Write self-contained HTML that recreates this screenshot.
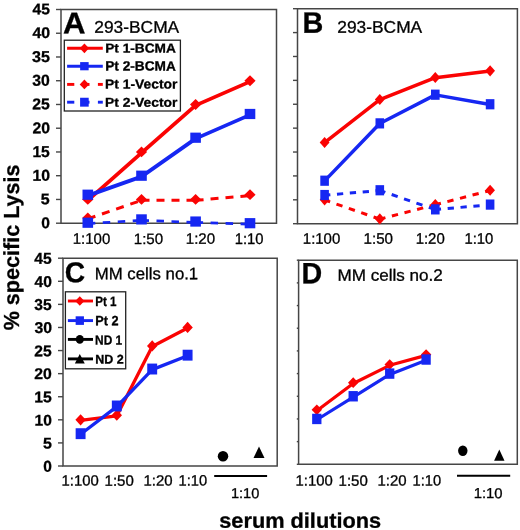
<!DOCTYPE html><html><head><meta charset="utf-8"><title>Figure</title><style>html,body{margin:0;padding:0;background:#fff;}svg{display:block;will-change:transform;}text{font-family:"Liberation Sans",sans-serif;fill:#000;stroke:#000;stroke-width:0.3px;text-rendering:geometricPrecision;}</style></head><body>
<svg width="520" height="530" viewBox="0 0 520 530">
<rect width="520" height="530" fill="#fff"/>
<path d="M56.00 223.20H61.00" stroke="#464646" stroke-width="1.4"/>
<path d="M56.00 199.46H61.00" stroke="#464646" stroke-width="1.4"/>
<path d="M56.00 175.71H61.00" stroke="#464646" stroke-width="1.4"/>
<path d="M56.00 151.97H61.00" stroke="#464646" stroke-width="1.4"/>
<path d="M56.00 128.22H61.00" stroke="#464646" stroke-width="1.4"/>
<path d="M56.00 104.48H61.00" stroke="#464646" stroke-width="1.4"/>
<path d="M56.00 80.73H61.00" stroke="#464646" stroke-width="1.4"/>
<path d="M56.00 56.99H61.00" stroke="#464646" stroke-width="1.4"/>
<path d="M56.00 33.24H61.00" stroke="#464646" stroke-width="1.4"/>
<path d="M56.00 9.50H61.00" stroke="#464646" stroke-width="1.4"/>
<path d="M61.0 9.5H276.5V223.2H61.0Z" fill="none" stroke="#464646" stroke-width="1.5"/>
<path d="M87.80 200.36L141.50 152.87L195.60 105.38L250.00 81.63" fill="none" stroke="#fa0303" stroke-width="3.8" stroke-linejoin="round"/>
<path d="M82.20 199.46L87.80 194.06L93.40 199.46L87.80 204.86Z" fill="#fa0303"/>
<path d="M135.90 151.97L141.50 146.57L147.10 151.97L141.50 157.37Z" fill="#fa0303"/>
<path d="M190.00 104.48L195.60 99.08L201.20 104.48L195.60 109.88Z" fill="#fa0303"/>
<path d="M244.40 80.73L250.00 75.33L255.60 80.73L250.00 86.13Z" fill="#fa0303"/>
<path d="M87.80 195.61L141.50 176.61L195.60 138.62L250.00 114.88" fill="none" stroke="#1627f2" stroke-width="3.8" stroke-linejoin="round"/>
<rect x="82.50" y="189.61" width="10.60" height="10.20" fill="#1627f2"/>
<rect x="136.20" y="170.61" width="10.60" height="10.20" fill="#1627f2"/>
<rect x="190.30" y="132.62" width="10.60" height="10.20" fill="#1627f2"/>
<rect x="244.70" y="108.88" width="10.60" height="10.20" fill="#1627f2"/>
<path d="M87.80 218.88L95.36 216.27M101.98 213.99L109.54 211.38M116.16 209.09L123.72 206.49M130.34 204.20L137.90 201.60M141.50 200.36L149.50 200.36M156.50 200.36L164.50 200.36M171.50 200.36L179.50 200.36M186.50 200.36L194.50 200.36M195.60 200.36L203.57 199.66M210.54 199.05L218.51 198.36M225.49 197.75L233.46 197.05M240.43 196.44L248.40 195.75" fill="none" stroke="#fa0303" stroke-width="3.0"/>
<path d="M82.20 217.98L87.80 212.58L93.40 217.98L87.80 223.38Z" fill="#fa0303"/>
<path d="M135.90 199.46L141.50 194.06L147.10 199.46L141.50 204.86Z" fill="#fa0303"/>
<path d="M190.00 199.46L195.60 194.06L201.20 199.46L195.60 204.86Z" fill="#fa0303"/>
<path d="M244.40 194.71L250.00 189.31L255.60 194.71L250.00 200.11Z" fill="#fa0303"/>
<path d="M87.80 223.63L95.29 223.16M102.77 222.70L110.26 222.23M117.74 221.77L125.23 221.31M132.71 220.84L140.20 220.38M141.50 220.30L148.99 220.60M156.49 220.89L163.98 221.19M171.48 221.48L178.97 221.78M186.46 222.08L193.96 222.37M195.60 222.44L203.10 222.67M210.59 222.90L218.09 223.13M225.59 223.35L233.08 223.58M240.58 223.81L248.08 224.04" fill="none" stroke="#1627f2" stroke-width="2.7"/>
<rect x="82.50" y="217.63" width="10.60" height="10.20" fill="#1627f2"/>
<rect x="136.20" y="214.30" width="10.60" height="10.20" fill="#1627f2"/>
<rect x="190.30" y="216.44" width="10.60" height="10.20" fill="#1627f2"/>
<rect x="244.70" y="218.10" width="10.60" height="10.20" fill="#1627f2"/>
<path d="M293.00 223.70H297.50" stroke="#464646" stroke-width="1.4"/>
<path d="M293.00 199.81H297.50" stroke="#464646" stroke-width="1.4"/>
<path d="M293.00 175.92H297.50" stroke="#464646" stroke-width="1.4"/>
<path d="M293.00 152.03H297.50" stroke="#464646" stroke-width="1.4"/>
<path d="M293.00 128.14H297.50" stroke="#464646" stroke-width="1.4"/>
<path d="M293.00 104.26H297.50" stroke="#464646" stroke-width="1.4"/>
<path d="M293.00 80.37H297.50" stroke="#464646" stroke-width="1.4"/>
<path d="M293.00 56.48H297.50" stroke="#464646" stroke-width="1.4"/>
<path d="M293.00 32.59H297.50" stroke="#464646" stroke-width="1.4"/>
<path d="M293.00 8.70H297.50" stroke="#464646" stroke-width="1.4"/>
<path d="M297.5 8.7H517.4V223.7H297.5Z" fill="none" stroke="#464646" stroke-width="1.5"/>
<path d="M324.60 142.68L379.80 99.68L435.30 77.70L490.10 71.01" fill="none" stroke="#fa0303" stroke-width="3.5" stroke-linejoin="round"/>
<path d="M319.70 142.48L324.60 136.88L329.50 142.48L324.60 148.08Z" fill="#fa0303"/>
<path d="M374.90 99.48L379.80 93.88L384.70 99.48L379.80 105.08Z" fill="#fa0303"/>
<path d="M430.40 77.50L435.30 71.90L440.20 77.50L435.30 83.10Z" fill="#fa0303"/>
<path d="M485.20 70.81L490.10 65.21L495.00 70.81L490.10 76.41Z" fill="#fa0303"/>
<path d="M324.60 180.90L379.80 123.57L435.30 94.90L490.10 104.46" fill="none" stroke="#1627f2" stroke-width="3.5" stroke-linejoin="round"/>
<rect x="320.30" y="175.60" width="8.60" height="10.20" fill="#1627f2"/>
<rect x="375.50" y="118.27" width="8.60" height="10.20" fill="#1627f2"/>
<rect x="431.00" y="89.60" width="8.60" height="10.20" fill="#1627f2"/>
<rect x="485.80" y="99.16" width="8.60" height="10.20" fill="#1627f2"/>
<path d="M324.60 200.01L330.12 201.92M336.47 204.12L342.49 206.20M348.83 208.40L354.85 210.48M361.20 212.68L367.21 214.76M373.56 216.96L379.58 219.04M379.80 219.12L385.42 217.67M391.89 216.00L398.02 214.42M404.48 212.75L410.61 211.16M417.08 209.50L423.20 207.91M429.67 206.24L435.30 204.79M435.30 204.79L440.92 203.32M447.38 201.63L453.51 200.03M459.97 198.34L466.09 196.73M472.55 195.05L478.68 193.44M485.14 191.75L490.10 190.46" fill="none" stroke="#fa0303" stroke-width="3.0"/>
<path d="M319.70 199.81L324.60 194.21L329.50 199.81L324.60 205.41Z" fill="#fa0303"/>
<path d="M374.90 218.92L379.80 213.32L384.70 218.92L379.80 224.52Z" fill="#fa0303"/>
<path d="M430.40 204.59L435.30 198.99L440.20 204.59L435.30 210.19Z" fill="#fa0303"/>
<path d="M485.20 190.26L490.10 184.66L495.00 190.26L490.10 195.86Z" fill="#fa0303"/>
<path d="M324.60 195.23L330.35 194.74M336.95 194.16L343.21 193.62M349.81 193.05L356.07 192.51M362.68 191.94L368.94 191.40M375.54 190.82L379.80 190.46M379.80 190.46L385.32 192.36M391.67 194.54L397.69 196.62M404.04 198.80L410.06 200.88M416.41 203.06L422.43 205.14M428.78 207.32L434.80 209.39M435.30 209.57L441.05 209.07M447.65 208.49L453.91 207.94M460.51 207.37L466.77 206.82M473.38 206.25L479.64 205.70M486.24 205.13L490.10 204.79" fill="none" stroke="#1627f2" stroke-width="3.0"/>
<rect x="320.30" y="189.93" width="8.60" height="10.20" fill="#1627f2"/>
<rect x="375.50" y="185.16" width="8.60" height="10.20" fill="#1627f2"/>
<rect x="431.00" y="204.27" width="8.60" height="10.20" fill="#1627f2"/>
<rect x="485.80" y="199.49" width="8.60" height="10.20" fill="#1627f2"/>
<path d="M58.00 466.00H63.00" stroke="#464646" stroke-width="1.4"/>
<path d="M58.00 442.91H63.00" stroke="#464646" stroke-width="1.4"/>
<path d="M58.00 419.82H63.00" stroke="#464646" stroke-width="1.4"/>
<path d="M58.00 396.73H63.00" stroke="#464646" stroke-width="1.4"/>
<path d="M58.00 373.64H63.00" stroke="#464646" stroke-width="1.4"/>
<path d="M58.00 350.56H63.00" stroke="#464646" stroke-width="1.4"/>
<path d="M58.00 327.47H63.00" stroke="#464646" stroke-width="1.4"/>
<path d="M58.00 304.38H63.00" stroke="#464646" stroke-width="1.4"/>
<path d="M58.00 281.29H63.00" stroke="#464646" stroke-width="1.4"/>
<path d="M58.00 258.20H63.00" stroke="#464646" stroke-width="1.4"/>
<path d="M63.0 258.2H277.2V466.0H63.0Z" fill="none" stroke="#464646" stroke-width="1.5"/>
<path d="M80.60 420.42L116.80 415.80L152.20 346.54L187.60 328.07" fill="none" stroke="#fa0303" stroke-width="3.3" stroke-linejoin="round"/>
<path d="M75.40 419.82L80.60 414.22L85.80 419.82L80.60 425.42Z" fill="#fa0303"/>
<path d="M111.60 415.20L116.80 409.60L122.00 415.20L116.80 420.80Z" fill="#fa0303"/>
<path d="M147.00 345.94L152.20 340.34L157.40 345.94L152.20 351.54Z" fill="#fa0303"/>
<path d="M182.40 327.47L187.60 321.87L192.80 327.47L187.60 333.07Z" fill="#fa0303"/>
<path d="M80.60 434.28L116.80 406.57L152.20 369.63L187.60 355.77" fill="none" stroke="#1627f2" stroke-width="3.3" stroke-linejoin="round"/>
<rect x="75.65" y="428.23" width="9.90" height="10.90" fill="#1627f2"/>
<rect x="111.85" y="400.52" width="9.90" height="10.90" fill="#1627f2"/>
<rect x="147.25" y="363.58" width="9.90" height="10.90" fill="#1627f2"/>
<rect x="182.65" y="349.72" width="9.90" height="10.90" fill="#1627f2"/>
<path d="M296.80 464.30H298.60" stroke="#464646" stroke-width="1.4"/>
<path d="M296.80 441.62H298.60" stroke="#464646" stroke-width="1.4"/>
<path d="M296.80 418.94H298.60" stroke="#464646" stroke-width="1.4"/>
<path d="M296.80 396.27H298.60" stroke="#464646" stroke-width="1.4"/>
<path d="M296.80 373.59H298.60" stroke="#464646" stroke-width="1.4"/>
<path d="M296.80 350.91H298.60" stroke="#464646" stroke-width="1.4"/>
<path d="M296.80 328.23H298.60" stroke="#464646" stroke-width="1.4"/>
<path d="M296.80 305.56H298.60" stroke="#464646" stroke-width="1.4"/>
<path d="M296.80 282.88H298.60" stroke="#464646" stroke-width="1.4"/>
<path d="M296.80 260.20H298.60" stroke="#464646" stroke-width="1.4"/>
<path d="M298.6 260.2H517.3V464.3H298.6Z" fill="none" stroke="#464646" stroke-width="1.5"/>
<path d="M316.80 410.67L353.20 383.46L389.70 365.32L426.10 355.34" fill="none" stroke="#fa0303" stroke-width="3.2" stroke-linejoin="round"/>
<path d="M311.60 409.87L316.80 404.57L322.00 409.87L316.80 415.17Z" fill="#fa0303"/>
<path d="M348.00 382.66L353.20 377.36L358.40 382.66L353.20 387.96Z" fill="#fa0303"/>
<path d="M384.50 364.52L389.70 359.22L394.90 364.52L389.70 369.82Z" fill="#fa0303"/>
<path d="M420.90 354.54L426.10 349.24L431.30 354.54L426.10 359.84Z" fill="#fa0303"/>
<path d="M316.80 419.74L353.20 397.07L389.70 374.39L426.10 360.33" fill="none" stroke="#1627f2" stroke-width="3.2" stroke-linejoin="round"/>
<rect x="312.15" y="413.74" width="9.30" height="10.40" fill="#1627f2"/>
<rect x="348.55" y="391.07" width="9.30" height="10.40" fill="#1627f2"/>
<rect x="385.05" y="368.39" width="9.30" height="10.40" fill="#1627f2"/>
<rect x="421.45" y="354.33" width="9.30" height="10.40" fill="#1627f2"/>
<text x="41.26" y="228.31" font-size="15.71" font-weight="bold" textLength="8.63" lengthAdjust="spacingAndGlyphs" transform="rotate(0.05 45.58 228.31)">0</text>
<text x="40.84" y="204.38" font-size="15.35" font-weight="bold" textLength="8.90" lengthAdjust="spacingAndGlyphs" transform="rotate(0.05 45.29 204.38)">5</text>
<text x="32.55" y="180.70" font-size="15.77" font-weight="bold" textLength="17.52" lengthAdjust="spacingAndGlyphs" transform="rotate(0.05 41.31 180.70)">10</text>
<text x="32.40" y="156.92" font-size="15.67" font-weight="bold" textLength="17.41" lengthAdjust="spacingAndGlyphs" transform="rotate(0.05 41.10 156.92)">15</text>
<text x="32.41" y="133.29" font-size="15.64" font-weight="bold" textLength="17.55" lengthAdjust="spacingAndGlyphs" transform="rotate(0.05 41.18 133.29)">20</text>
<text x="32.36" y="109.37" font-size="15.57" font-weight="bold" textLength="17.50" lengthAdjust="spacingAndGlyphs" transform="rotate(0.05 41.10 109.37)">25</text>
<text x="32.35" y="85.85" font-size="15.91" font-weight="bold" textLength="17.54" lengthAdjust="spacingAndGlyphs" transform="rotate(0.05 41.12 85.85)">30</text>
<text x="32.06" y="62.12" font-size="15.68" font-weight="bold" textLength="17.87" lengthAdjust="spacingAndGlyphs" transform="rotate(0.05 40.99 62.12)">35</text>
<text x="32.47" y="38.09" font-size="15.46" font-weight="bold" textLength="17.64" lengthAdjust="spacingAndGlyphs" transform="rotate(0.05 41.29 38.09)">40</text>
<text x="32.49" y="14.33" font-size="15.23" font-weight="bold" textLength="17.36" lengthAdjust="spacingAndGlyphs" transform="rotate(0.05 41.17 14.33)">45</text>
<text x="43.36" y="471.74" font-size="15.75" font-weight="bold" textLength="8.61" lengthAdjust="spacingAndGlyphs" transform="rotate(0.05 47.67 471.74)">0</text>
<text x="42.91" y="448.43" font-size="15.45" font-weight="bold" textLength="8.89" lengthAdjust="spacingAndGlyphs" transform="rotate(0.05 47.36 448.43)">5</text>
<text x="34.51" y="425.44" font-size="15.36" font-weight="bold" textLength="17.28" lengthAdjust="spacingAndGlyphs" transform="rotate(0.05 43.15 425.44)">10</text>
<text x="34.15" y="402.23" font-size="15.28" font-weight="bold" textLength="17.51" lengthAdjust="spacingAndGlyphs" transform="rotate(0.05 42.90 402.23)">15</text>
<text x="34.32" y="379.09" font-size="15.53" font-weight="bold" textLength="17.53" lengthAdjust="spacingAndGlyphs" transform="rotate(0.05 43.09 379.09)">20</text>
<text x="34.24" y="356.15" font-size="15.47" font-weight="bold" textLength="17.39" lengthAdjust="spacingAndGlyphs" transform="rotate(0.05 42.94 356.15)">25</text>
<text x="34.42" y="333.13" font-size="15.73" font-weight="bold" textLength="17.56" lengthAdjust="spacingAndGlyphs" transform="rotate(0.05 43.20 333.13)">30</text>
<text x="34.29" y="310.10" font-size="15.76" font-weight="bold" textLength="17.31" lengthAdjust="spacingAndGlyphs" transform="rotate(0.05 42.95 310.10)">35</text>
<text x="34.52" y="287.11" font-size="15.73" font-weight="bold" textLength="17.32" lengthAdjust="spacingAndGlyphs" transform="rotate(0.05 43.19 287.11)">40</text>
<text x="34.35" y="263.75" font-size="15.74" font-weight="bold" textLength="17.39" lengthAdjust="spacingAndGlyphs" transform="rotate(0.05 43.04 263.75)">45</text>
<text x="63.06" y="33.31" font-size="29.88" font-weight="bold" textLength="22.51" lengthAdjust="spacingAndGlyphs" transform="rotate(0.05 74.32 33.31)">A</text>
<text x="94.29" y="32.72" font-size="16.90" font-weight="normal" textLength="84.90" lengthAdjust="spacingAndGlyphs" transform="rotate(0.05 136.74 32.72)">293-BCMA</text>
<text x="302.50" y="32.70" font-size="29.58" font-weight="bold" textLength="20.83" lengthAdjust="spacingAndGlyphs" transform="rotate(0.05 312.92 32.70)">B</text>
<text x="337.29" y="32.72" font-size="16.90" font-weight="normal" textLength="84.90" lengthAdjust="spacingAndGlyphs" transform="rotate(0.05 379.74 32.72)">293-BCMA</text>
<text x="64.70" y="282.19" font-size="28.72" font-weight="bold" textLength="20.34" lengthAdjust="spacingAndGlyphs" transform="rotate(0.05 74.87 282.19)">C</text>
<text x="94.76" y="279.33" font-size="16.64" font-weight="normal" textLength="103.46" lengthAdjust="spacingAndGlyphs" transform="rotate(0.05 146.49 279.33)">MM cells no.1</text>
<text x="301.38" y="283.31" font-size="29.36" font-weight="bold" textLength="20.69" lengthAdjust="spacingAndGlyphs" transform="rotate(0.05 311.72 283.31)">D</text>
<text x="337.49" y="280.80" font-size="16.47" font-weight="normal" textLength="105.28" lengthAdjust="spacingAndGlyphs" transform="rotate(0.05 390.13 280.80)">MM cells no.2</text>
<text x="72.76" y="243.88" font-size="15.14" font-weight="normal" textLength="37.49" lengthAdjust="spacingAndGlyphs" transform="rotate(0.05 91.50 243.88)">1:100</text>
<text x="133.75" y="243.96" font-size="15.08" font-weight="normal" textLength="29.35" lengthAdjust="spacingAndGlyphs" transform="rotate(0.05 148.42 243.96)">1:50</text>
<text x="185.76" y="243.81" font-size="15.15" font-weight="normal" textLength="29.36" lengthAdjust="spacingAndGlyphs" transform="rotate(0.05 200.44 243.81)">1:20</text>
<text x="234.67" y="243.95" font-size="15.25" font-weight="normal" textLength="28.80" lengthAdjust="spacingAndGlyphs" transform="rotate(0.05 249.07 243.95)">1:10</text>
<text x="302.81" y="243.83" font-size="15.22" font-weight="normal" textLength="37.49" lengthAdjust="spacingAndGlyphs" transform="rotate(0.05 321.56 243.83)">1:100</text>
<text x="363.52" y="243.85" font-size="15.30" font-weight="normal" textLength="29.49" lengthAdjust="spacingAndGlyphs" transform="rotate(0.05 378.26 243.85)">1:50</text>
<text x="415.67" y="243.85" font-size="15.24" font-weight="normal" textLength="29.10" lengthAdjust="spacingAndGlyphs" transform="rotate(0.05 430.22 243.85)">1:20</text>
<text x="464.43" y="243.85" font-size="15.31" font-weight="normal" textLength="28.88" lengthAdjust="spacingAndGlyphs" transform="rotate(0.05 478.87 243.85)">1:10</text>
<text x="61.60" y="485.60" font-size="14.82" font-weight="normal" textLength="37.20" lengthAdjust="spacingAndGlyphs" transform="rotate(0.05 80.20 485.60)">1:100</text>
<text x="104.60" y="485.65" font-size="14.94" font-weight="normal" textLength="29.24" lengthAdjust="spacingAndGlyphs" transform="rotate(0.05 119.22 485.65)">1:50</text>
<text x="143.51" y="485.59" font-size="14.85" font-weight="normal" textLength="29.14" lengthAdjust="spacingAndGlyphs" transform="rotate(0.05 158.08 485.59)">1:20</text>
<text x="178.55" y="485.60" font-size="15.00" font-weight="normal" textLength="28.56" lengthAdjust="spacingAndGlyphs" transform="rotate(0.05 192.83 485.60)">1:10</text>
<text x="295.60" y="485.60" font-size="14.82" font-weight="normal" textLength="37.20" lengthAdjust="spacingAndGlyphs" transform="rotate(0.05 314.20 485.60)">1:100</text>
<text x="338.60" y="485.65" font-size="14.94" font-weight="normal" textLength="29.24" lengthAdjust="spacingAndGlyphs" transform="rotate(0.05 353.22 485.65)">1:50</text>
<text x="377.51" y="485.59" font-size="14.85" font-weight="normal" textLength="29.14" lengthAdjust="spacingAndGlyphs" transform="rotate(0.05 392.08 485.59)">1:20</text>
<text x="412.55" y="485.60" font-size="15.00" font-weight="normal" textLength="28.56" lengthAdjust="spacingAndGlyphs" transform="rotate(0.05 426.83 485.60)">1:10</text>
<text x="230.95" y="498.14" font-size="14.32" font-weight="normal" textLength="28.37" lengthAdjust="spacingAndGlyphs" transform="rotate(0.05 245.14 498.14)">1:10</text>
<text x="473.68" y="498.13" font-size="14.42" font-weight="normal" textLength="28.90" lengthAdjust="spacingAndGlyphs" transform="rotate(0.05 488.13 498.13)">1:10</text>
<text x="219.29" y="527.79" font-size="21.20" font-weight="bold" textLength="161.77" lengthAdjust="spacingAndGlyphs" transform="rotate(0.05 300.17 527.79)">serum dilutions</text>
<rect x="64.3" y="40.2" width="116.10000000000001" height="70.8" fill="#fff" stroke="#222" stroke-width="1.3"/>
<path d="M67.1 48.3H102.8" stroke="#fa0303" stroke-width="2.9"/>
<path d="M79.80 48.30L84.40 43.40L89.00 48.30L84.40 53.20Z" fill="#fa0303"/>
<text x="105.22" y="52.59" font-size="12.89" font-weight="bold" textLength="70.66" lengthAdjust="spacingAndGlyphs" transform="rotate(0.05 140.56 52.59)">Pt 1-BCMA</text>
<path d="M67.1 66.2H102.8" stroke="#1627f2" stroke-width="2.9"/>
<rect x="80.15" y="62.10" width="8.50" height="8.20" fill="#1627f2"/>
<text x="105.21" y="70.61" font-size="13.42" font-weight="bold" textLength="70.59" lengthAdjust="spacingAndGlyphs" transform="rotate(0.05 140.50 70.61)">Pt 2-BCMA</text>
<path d="M67.1 84.4H74.3" stroke="#fa0303" stroke-width="2.9"/>
<path d="M81 84.4H89.5" stroke="#fa0303" stroke-width="2.9"/>
<path d="M97.9 84.4H102.8" stroke="#fa0303" stroke-width="2.9"/>
<path d="M79.70 84.40L84.40 79.50L89.10 84.40L84.40 89.30Z" fill="#fa0303"/>
<text x="105.07" y="88.60" font-size="13.06" font-weight="bold" textLength="72.34" lengthAdjust="spacingAndGlyphs" transform="rotate(0.05 141.24 88.60)">Pt 1-Vector</text>
<path d="M67.1 102.2H74.3" stroke="#1627f2" stroke-width="2.9"/>
<path d="M81 102.2H89.5" stroke="#1627f2" stroke-width="2.9"/>
<path d="M97.9 102.2H102.8" stroke="#1627f2" stroke-width="2.9"/>
<rect x="80.10" y="97.75" width="8.60" height="8.90" fill="#1627f2"/>
<text x="105.12" y="106.74" font-size="12.85" font-weight="bold" textLength="72.32" lengthAdjust="spacingAndGlyphs" transform="rotate(0.05 141.28 106.74)">Pt 2-Vector</text>
<rect x="65.4" y="291.8" width="60.3" height="77.0" fill="#fff" stroke="#222" stroke-width="1.3"/>
<path d="M67.9 301.0H93.0" stroke="#fa0303" stroke-width="2.9"/>
<path d="M75.20 301.00L79.80 296.20L84.40 301.00L79.80 305.80Z" fill="#fa0303"/>
<text x="95.19" y="305.95" font-size="13.61" font-weight="bold" textLength="21.40" lengthAdjust="spacingAndGlyphs" transform="rotate(0.05 105.89 305.95)">Pt 1</text>
<path d="M67.9 320.6H93.0" stroke="#1627f2" stroke-width="2.9"/>
<rect x="75.65" y="316.30" width="8.30" height="8.60" fill="#1627f2"/>
<text x="95.22" y="325.23" font-size="13.51" font-weight="bold" textLength="23.27" lengthAdjust="spacingAndGlyphs" transform="rotate(0.05 106.86 325.23)">Pt 2</text>
<path d="M67.9 339.4H93.0" stroke="#000" stroke-width="2.9"/>
<ellipse cx="79.8" cy="339.4" rx="4.0" ry="4.45" fill="#000"/>
<text x="95.09" y="344.44" font-size="13.05" font-weight="bold" textLength="27.09" lengthAdjust="spacingAndGlyphs" transform="rotate(0.05 108.63 344.44)">ND 1</text>
<path d="M67.9 358.9H93.0" stroke="#000" stroke-width="2.9"/>
<path d="M74.85 363.60L79.80 354.00L84.75 363.60Z" fill="#000"/>
<text x="95.32" y="363.45" font-size="12.51" font-weight="bold" textLength="28.52" lengthAdjust="spacingAndGlyphs" transform="rotate(0.05 109.58 363.45)">ND 2</text>
<text transform="translate(19.30 330.33) rotate(-90)" x="0" y="0" font-size="21.80" font-weight="bold" textLength="165.81" lengthAdjust="spacingAndGlyphs">% specific Lysis</text>
<circle cx="223" cy="456.3" r="5.25" fill="#000"/>
<path d="M253.5 458L259 446.5L264.5 458Z" fill="#000"/>
<path d="M214.2 476H267.1" stroke="#000" stroke-width="1.9"/>
<ellipse cx="462.8" cy="450.7" rx="4.7" ry="5.2" fill="#000"/>
<path d="M494.1 460.8L499.3 449.5L504.5 460.8Z" fill="#000"/>
<path d="M457 475.8H510.2" stroke="#000" stroke-width="1.9"/>
</svg></body></html>
